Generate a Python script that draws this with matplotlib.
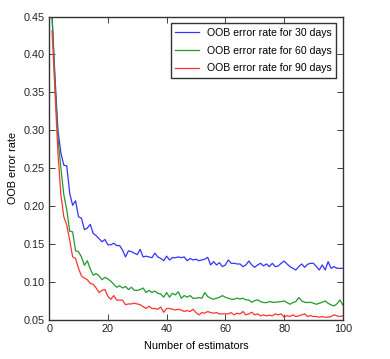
import matplotlib.pyplot as plt

# OOB error rate per number of estimators (1..100)
n_estimators = list(range(1, 101))

oob_30 = [0.45, 0.37, 0.30, 0.27, 0.254, 0.253, 0.217, 0.201, 0.207, 0.186,
          0.184, 0.169, 0.171, 0.176, 0.164, 0.161, 0.157, 0.153, 0.156, 0.149,
          0.149, 0.151, 0.148, 0.148, 0.142, 0.133, 0.141, 0.140, 0.138, 0.136,
          0.143, 0.133, 0.134, 0.133, 0.132, 0.138, 0.133, 0.131, 0.128, 0.134,
          0.129, 0.132, 0.132, 0.133, 0.132, 0.133, 0.128, 0.131, 0.129, 0.130,
          0.128, 0.129, 0.130, 0.1325, 0.1224, 0.1268, 0.1224, 0.1254, 0.1202, 0.1224,
          0.129, 0.1246, 0.1246, 0.1237, 0.1237, 0.1202, 0.1224, 0.1276, 0.1224, 0.1193,
          0.1224, 0.1246, 0.1211, 0.1237, 0.1202, 0.1246, 0.1202, 0.1211, 0.1246, 0.1276,
          0.1237, 0.1202, 0.118, 0.1158, 0.1202, 0.1237, 0.1193, 0.1233, 0.1246, 0.1246,
          0.1202, 0.1158, 0.1224, 0.1158, 0.1268, 0.118, 0.1202, 0.118, 0.118, 0.118]

oob_60 = [0.45, 0.36, 0.29, 0.25, 0.215, 0.195, 0.167, 0.166, 0.141, 0.140,
          0.133, 0.122, 0.128, 0.117, 0.109, 0.111, 0.108, 0.103, 0.106, 0.104,
          0.101, 0.097, 0.093, 0.095, 0.092, 0.094, 0.090, 0.093, 0.089, 0.089,
          0.090, 0.092, 0.086, 0.089, 0.086, 0.088, 0.085, 0.084, 0.080, 0.086,
          0.080, 0.085, 0.083, 0.087, 0.0785, 0.082, 0.080, 0.082, 0.0785, 0.0785,
          0.0794, 0.0785, 0.086, 0.0807, 0.0785, 0.0772, 0.0785, 0.0798, 0.082, 0.0798,
          0.0785, 0.0772, 0.0772, 0.0785, 0.0776, 0.0785, 0.0763, 0.0763, 0.0732, 0.0754,
          0.0763, 0.0741, 0.0728, 0.0728, 0.0741, 0.0732, 0.0732, 0.0737, 0.0741, 0.075,
          0.0728, 0.0706, 0.0728, 0.0741, 0.0794, 0.075, 0.0732, 0.0728, 0.0732, 0.0719,
          0.0706, 0.0719, 0.0732, 0.075, 0.0719, 0.0697, 0.0684, 0.0711, 0.0763, 0.0697]

oob_90 = [0.431, 0.35, 0.27, 0.215, 0.186, 0.175, 0.155, 0.133, 0.131, 0.118,
          0.108, 0.105, 0.103, 0.098, 0.097, 0.092, 0.086, 0.089, 0.090, 0.081,
          0.077, 0.082, 0.076, 0.076, 0.076, 0.070, 0.071, 0.071, 0.072, 0.071,
          0.070, 0.0675, 0.065, 0.068, 0.065, 0.065, 0.064, 0.067, 0.060, 0.065,
          0.065, 0.064, 0.063, 0.064, 0.063, 0.061, 0.0623, 0.061, 0.064, 0.0596,
          0.0566, 0.0596, 0.0588, 0.061, 0.0596, 0.0588, 0.0596, 0.0579, 0.0579, 0.0579,
          0.0579, 0.0596, 0.0566, 0.0588, 0.0579, 0.061, 0.0566, 0.0579, 0.0601, 0.0566,
          0.0579, 0.0553, 0.0566, 0.0553, 0.0561, 0.0553, 0.0579, 0.0566, 0.0579, 0.0535,
          0.0557, 0.0544, 0.0566, 0.0544, 0.0553, 0.0566, 0.0579, 0.0544, 0.0557, 0.0544,
          0.0544, 0.0535, 0.0544, 0.0535, 0.0535, 0.0544, 0.0566, 0.0553, 0.0544, 0.0553]

labels = ["OOB error rate for 30 days", "OOB error rate for 60 days", "OOB error rate for 90 days"]
x_ticks = [0, 20, 40, 60, 80, 100]
y_ticks = [0.05, 0.10, 0.15, 0.20, 0.25, 0.30, 0.35, 0.40, 0.45]

plt.rcParams['font.family'] = ['Liberation Sans', 'DejaVu Sans']

fig = plt.figure(figsize=(3.9, 3.59), dpi=100)
ax = fig.add_axes([0.126, 0.109, 0.753, 0.845])

ax.plot(n_estimators, oob_30, color='#3333ff', lw=0.9, label=labels[0])
ax.plot(n_estimators, oob_60, color='#22992b', lw=0.9, label=labels[1])
ax.plot(n_estimators, oob_90, color='#ff3333', lw=0.9, label=labels[2])

ax.set_xlim(0, 100)
ax.set_ylim(0.05, 0.45)
ax.set_xticks(x_ticks)
ax.set_yticks(y_ticks)
ax.set_yticklabels([f"{v:.2f}" for v in y_ticks])
ax.tick_params(direction='in', top=True, right=True, labelsize=7.8, length=4,
               width=0.6, pad=3, colors='#222222')
for s in ax.spines.values():
    s.set_linewidth(1)
    s.set_color('#333333')

ax.set_xlabel("Number of estimators", fontsize=7.8)
ax.set_ylabel("OOB error rate", fontsize=7.8)
ax.yaxis.set_label_coords(-0.105, 0.5)
ax.xaxis.set_label_coords(0.5, -0.07)

leg = ax.legend(loc='upper right', fontsize=7.6, fancybox=False, framealpha=1,
                edgecolor='#333333', borderpad=0.45, labelspacing=0.75,
                handlelength=2.2, borderaxespad=0.6)
leg.get_frame().set_linewidth(1)

fig.savefig("out.png", dpi=100, facecolor='white')
